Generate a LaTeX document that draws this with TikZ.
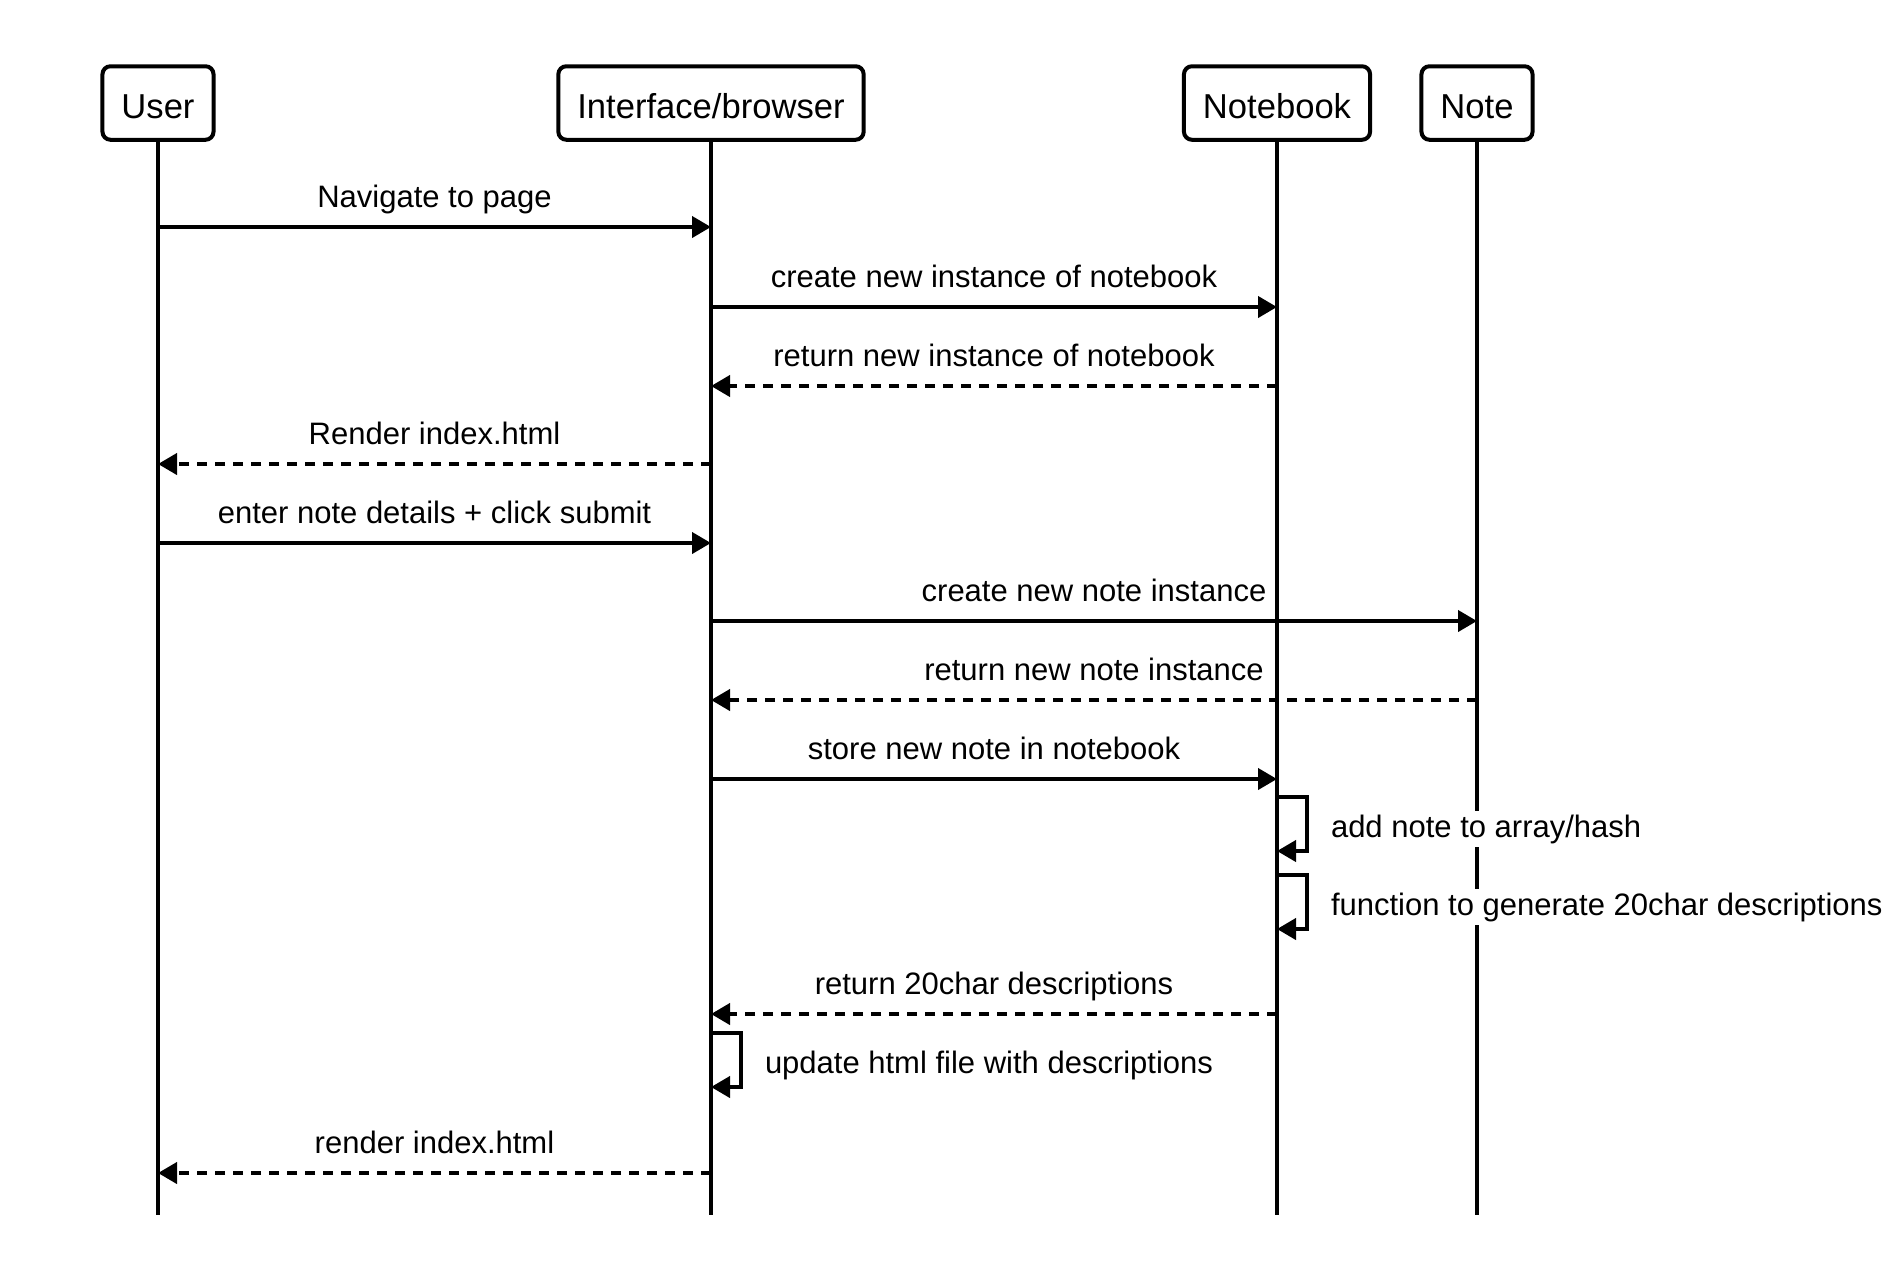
\documentclass[tikz,border=0pt]{standalone}
\usepackage{fontspec}
\setmainfont{Liberation Sans}
\usetikzlibrary{arrows.meta,positioning}

\begin{document}
\begin{tikzpicture}[
  x=0.5pt, y=-0.5pt,
  actor/.style={rounded corners=4pt, draw=black, line width=2pt, fill=white,
    font=\fontsize{17.3}{20}\selectfont, text height=18pt, text depth=2.6pt,
    minimum height=36.75pt, inner xsep=9.5pt},
  life/.style={line width=2pt},
  msg/.style={-{Triangle[length=9.5pt,width=10.5pt]}, line width=2pt},
  reply/.style={msg, dash pattern=on 5pt off 4pt},
  lbl/.style={font=\fontsize{15.5}{18}\selectfont, anchor=base, yshift=10pt, inner sep=0pt},
  selflbl/.style={font=\fontsize{15.5}{18}\selectfont, fill=white, inner sep=2pt, yshift=-2.5pt}
]
  \useasboundingbox (0,0) rectangle (1896,1260);
  \fill[white] (0,0) rectangle (1896,1260);

  % Participants
  \node[actor, minimum width=55pt] (user) at (158,103) {User};
  \node[actor] (ui) at (711,103) {Interface/browser};
  \node[actor] (nbook) at (1277,103) {Notebook};
  \node[actor, minimum width=55pt] (note) at (1477,103) {Note};

  % Lifelines
  \coordinate (bottom) at (0,1215);
  \draw[life] (user) -- (user |- bottom);
  \draw[life] (ui) -- (ui |- bottom);
  \draw[life] (nbook) -- (nbook |- bottom);
  \draw[life] (note) -- (note |- bottom);

  % Message rows
  \coordinate (m1) at (0,227);
  \coordinate (m2) at (0,307);
  \coordinate (m3) at (0,386);
  \coordinate (m4) at (0,464);
  \coordinate (m5) at (0,543);
  \coordinate (m6) at (0,621);
  \coordinate (m7) at (0,700);
  \coordinate (m8) at (0,779);
  \coordinate (s1) at (0,797);
  \coordinate (s1b) at (0,851);
  \coordinate (s2) at (0,875);
  \coordinate (s2b) at (0,929);
  \coordinate (m9) at (0,1014);
  \coordinate (s3) at (0,1033);
  \coordinate (s3b) at (0,1087);
  \coordinate (m10) at (0,1173);

  % Messages
  \draw[msg] (user |- m1) -- (ui |- m1) node[lbl, midway] (l1) {Navigate to page};
  \draw[msg] (ui |- m2) -- (nbook |- m2) node[lbl, midway] (l2) {create new instance of notebook};
  \draw[reply] (nbook |- m3) -- (ui |- m3) node[lbl, midway] (l3) {return new instance of notebook};
  \draw[reply] (ui |- m4) -- (user |- m4) node[lbl, midway] (l4) {Render index.html};
  \draw[msg] (user |- m5) -- (ui |- m5) node[lbl, midway] (l5) {enter note details + click submit};
  \draw[msg] (ui |- m6) -- (note |- m6) node[lbl, midway] (l6) {create new note instance};
  \draw[reply] (note |- m7) -- (ui |- m7) node[lbl, midway] (l7) {return new note instance};
  \draw[msg] (ui |- m8) -- (nbook |- m8) node[lbl, midway] (l8) {store new note in notebook};

  % Self calls on notebook
  \draw[msg] (nbook |- s1) -- ++(30,0) -- ++(0,54)
    node[selflbl, midway, right=9pt] (l9) {add note to array/hash} -- (nbook |- s1b);
  \draw[msg] (nbook |- s2) -- ++(30,0) -- ++(0,54)
    node[selflbl, midway, right=9pt] (l10) {function to generate 20char descriptions} -- (nbook |- s2b);

  \draw[reply] (nbook |- m9) -- (ui |- m9) node[lbl, midway] (l11) {return 20char descriptions};

  % Self call on interface
  \draw[msg] (ui |- s3) -- ++(30,0) -- ++(0,54)
    node[selflbl, midway, right=9pt] (l12) {update html file with descriptions} -- (ui |- s3b);

  \draw[reply] (ui |- m10) -- (user |- m10) node[lbl, midway] (l13) {render index.html};
\end{tikzpicture}
\end{document}
